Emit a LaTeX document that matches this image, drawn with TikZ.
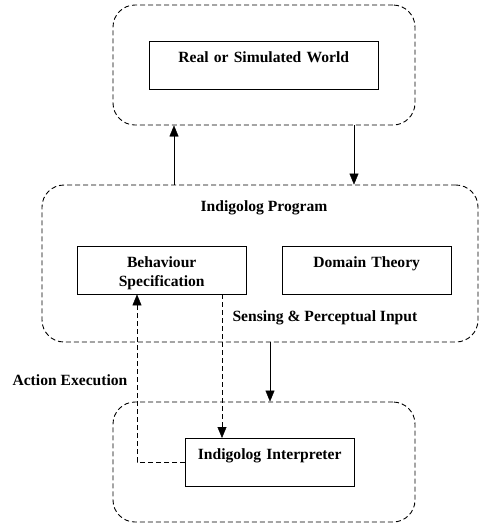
\documentclass[tikz,border=0pt]{standalone}
\usepackage{fontspec}
\setmainfont{Liberation Serif}
\usetikzlibrary{arrows.meta}
\tikzset{
  group/.style={draw, line width=0.9pt, dash pattern=on 5pt off 3pt, rounded corners=22pt, inner sep=0pt},
  block/.style={draw, inner xsep=0pt, inner ysep=0pt, align=center, text height=21pt, text depth=27pt},
  lbl/.style={font=\bfseries\fontsize{15.6}{19}\selectfont},
  flow/.style={-{Triangle[length=11pt,width=9pt]}},
}
\begin{document}
\begin{tikzpicture}[x=1pt,y=-1pt,font=\bfseries\fontsize{15.6}{19}\selectfont]
      \useasboundingbox (0,0) rectangle (480,523);
      % dashed groups
      \node[group, minimum width=302pt, minimum height=120pt] (worldgrp) at (264,65) {};
      \node[group, minimum width=436pt, minimum height=157pt] (proggrp) at (260,263.5) {};
      \node[group, minimum width=302pt, minimum height=120pt] (interpgrp) at (264,462) {};
      % blocks
      \node[block, text width=229pt, anchor=north west] (world) at (149,41) {Real or Simulated World};
      \node[lbl] (progtitle) at (264,208) {Indigolog Program};
      \node[block, text width=169pt, anchor=north west] (behav) at (77,246) {Behaviour\\Specification};
      \node[block, text width=169pt, anchor=north west] (domain) at (282,246) {Domain Theory};
      \node[block, text width=169pt, anchor=north west] (interp) at (185,438) {Indigolog Interpreter};
      \node[lbl, anchor=west] (sensing) at (229,318) {Sensing \& Perceptual Input};
      \node[lbl, anchor=west] (action) at (9,380) {Action Execution};
      % x positions of the connectors
      \coordinate (upx) at (174,0);
      \coordinate (downx) at (354,0);
      \coordinate (midx) at (270,0);
      \coordinate (sensx) at (222,0);
      \coordinate (actx) at (137,0);
      \coordinate (actcorner) at (137,462);
      % connectors
      \draw[flow] (proggrp.north -| upx) -- (worldgrp.south -| upx);
      \draw[flow] (worldgrp.south -| downx) -- (proggrp.north -| downx);
      \draw[flow] (proggrp.south -| midx) -- (interpgrp.north -| midx);
      \draw[flow, dash pattern=on 5pt off 3pt] (behav.south -| sensx) -- (interp.north -| sensx);
      \draw[flow, dash pattern=on 5pt off 3pt] (interp.west |- actcorner) -- (actcorner) -- (behav.south -| actx);
    \end{tikzpicture}
\end{document}
